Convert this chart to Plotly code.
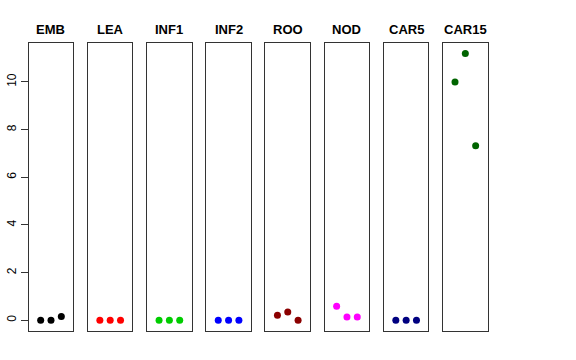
import plotly.graph_objects as go

tissues = ["EMB", "LEA", "INF1", "INF2", "ROO", "NOD", "CAR5", "CAR15"]
colors = ["#000000", "#FF0000", "#00CD00", "#0000FF", "#8B0000", "#FF00FF", "#000080", "#006400"]
replicates = [1, 2, 3]
values = [
    [0.0, 0.0, 0.16],
    [0.0, 0.0, 0.0],
    [0.0, 0.0, 0.0],
    [0.0, 0.0, 0.0],
    [0.21, 0.35, 0.0],
    [0.59, 0.14, 0.14],
    [0.0, 0.0, 0.0],
    [10.0, 11.2, 7.32],
]
yticks = [0, 2, 4, 6, 8, 10]

W, H = 576, 360
left0, pitch, width = 28.7, 59.19, 44.6
top_px, bot_px = 42.7, 331.0
title_px = 29
ymax = max(max(v) for v in values)
ymin = 0.0
pad = (ymax - ymin) * 0.04

fig = go.Figure()
layout = dict(
    width=W, height=H,
    margin=dict(l=0, r=0, t=0, b=0, autoexpand=False),
    plot_bgcolor="white", paper_bgcolor="white",
    showlegend=False,
    font=dict(family="Liberation Sans, Arial, sans-serif", color="black"),
)
annotations = []
for i, (name, col, vals) in enumerate(zip(tissues, colors, values)):
    sfx = "" if i == 0 else str(i + 1)
    fig.add_trace(go.Scatter(
        x=replicates, y=vals, mode="markers",
        marker=dict(color=col, size=7),
        xaxis="x" + sfx, yaxis="y" + sfx, hoverinfo="skip",
    ))
    x0 = (left0 + pitch * i) / W
    x1 = (left0 + pitch * i + width) / W
    layout["xaxis" + sfx] = dict(
        domain=[x0, x1], range=[-0.16, 4.16], anchor="y" + sfx,
        showgrid=False, zeroline=False, showticklabels=False, ticks="",
        showline=True, mirror=True, linecolor="#333333", linewidth=1,
    )
    ydict = dict(
        domain=[1 - bot_px / H, 1 - top_px / H], range=[ymin - pad, ymax + pad],
        anchor="x" + sfx, showgrid=False, zeroline=False,
        showline=True, mirror=True, linecolor="#333333", linewidth=1,
    )
    if i == 0:
        ydict.update(tickvals=yticks, ticktext=[str(t) for t in yticks],
                     ticks="outside", ticklen=7, tickcolor="#333333",
                     tickangle=-90, tickfont=dict(size=12))
    else:
        ydict.update(showticklabels=False, ticks="")
    layout["yaxis" + sfx] = ydict
    annotations.append(dict(
        x=(x0 + x1) / 2, y=1 - title_px / H, xref="paper", yref="paper",
        text="<b>" + name + "</b>", showarrow=False,
        font=dict(size=13, color="black"), xanchor="center", yanchor="middle",
    ))
layout["annotations"] = annotations
fig.update_layout(**layout)
fig.write_html(
    "out.html",
    config={"displayModeBar": False, "staticPlot": True},
    post_script="document.body.style.margin='0';document.body.style.padding='0';",
)
